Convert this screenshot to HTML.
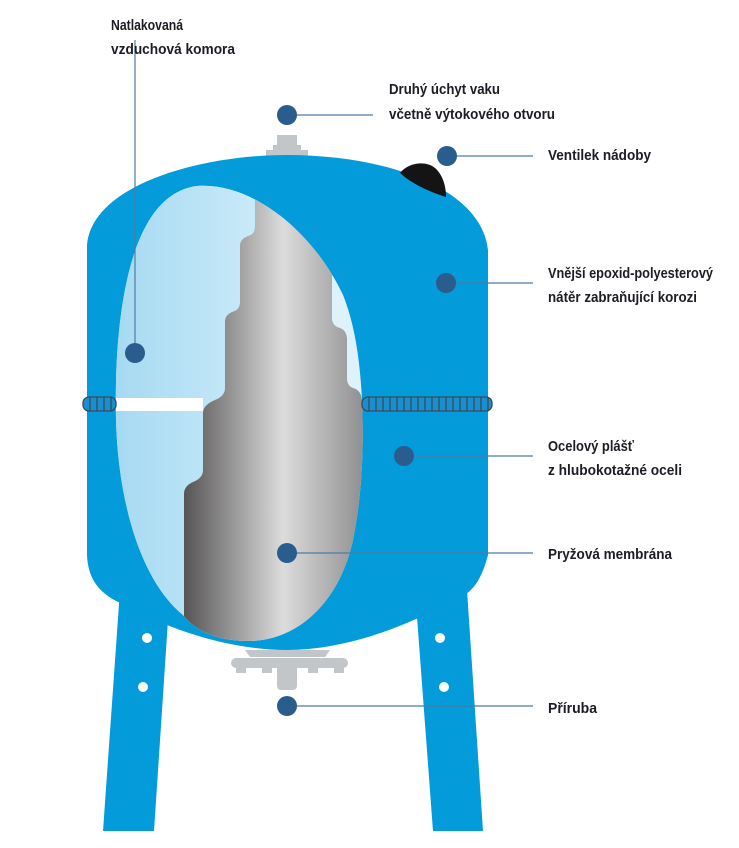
<!DOCTYPE html>
<html><head><meta charset="utf-8"><style>
html,body{margin:0;padding:0;background:#fff}
svg{display:block}
text{font-family:"Liberation Sans",sans-serif;font-size:15px;font-weight:bold;fill:#1c1c24}
</style></head><body>
<svg width="739" height="848" viewBox="0 0 739 848">
<defs>
<linearGradient id="mem" x1="183" x2="365" y1="0" y2="0" gradientUnits="userSpaceOnUse">
<stop offset="0" stop-color="#555354"/><stop offset="0.55" stop-color="#dcdcdc"/><stop offset="1" stop-color="#8e8e90"/>
</linearGradient>
<linearGradient id="win" x1="116" x2="250" y1="0" y2="0" gradientUnits="userSpaceOnUse">
<stop offset="0" stop-color="#a6daf2"/><stop offset="1" stop-color="#c8e9f8"/>
</linearGradient>
<clipPath id="wc"><path d="M183,615 C140,580 118,500 116,420 C114,330 125,195 197,186 C255,182 315,235 343,295 C355,325 360,360 362,400 C364,450 362,495 353,540 C340,600 300,640 250,641 C215,641 195,630 183,615 Z"/></clipPath>
</defs>
<polygon points="120,590 170,590 154,831 103,831" fill="#039bd9"/>
<polygon points="415,590 467,590 483,831 433,831" fill="#039bd9"/>
<circle cx="147" cy="638" r="5" fill="#fff"/><circle cx="143" cy="687" r="5" fill="#fff"/>
<circle cx="440" cy="638" r="5" fill="#fff"/><circle cx="444" cy="687" r="5" fill="#fff"/>
<rect x="277" y="135" width="20" height="16" fill="#c3c6c9"/>
<rect x="273" y="145" width="28" height="8" fill="#c3c6c9"/>
<rect x="266" y="150" width="42" height="8" fill="#c3c6c9"/>
<path d="M245,650 L330,650 L325,657 L250,657 Z" fill="#c3c6c9"/>
<rect x="231" y="658" width="117" height="10" rx="5" fill="#c3c6c9"/>
<rect x="236" y="664" width="10" height="9" fill="#c3c6c9"/><rect x="262" y="664" width="10" height="9" fill="#c3c6c9"/>
<rect x="308" y="664" width="10" height="9" fill="#c3c6c9"/><rect x="334" y="664" width="10" height="9" fill="#c3c6c9"/>
<rect x="277" y="664" width="20" height="26" rx="4" fill="#c3c6c9"/>
<path d="M87,555 L87,245 C92,185 200,155 287,155 C390,155 482,190 488,250 L488,555 C480,585 470,595 450,602 C400,630 340,650 287,650 C230,650 170,630 125,605 C100,595 88,580 87,555 Z" fill="#039bd9"/>
<path d="M400,173 C408,163 425,160 435,168 C442,174 446,185 446,197 C430,192 412,184 400,173 Z" fill="#141414"/>
<g clip-path="url(#wc)">
<rect x="100" y="170" width="280" height="480" fill="#dff2fb"/>
<rect x="100" y="170" width="160" height="480" fill="url(#win)"/>
<path d="M255,185 L255,227 Q255,234 248,236 Q240,239 240,246 L240,302 Q240,310 232,312 Q225,315 225,322 L225,388 Q225,396 215,400 Q203,405 203,413 L203,470 Q203,478 193,482 Q184,486 184,494 L184,650 L380,650 L362,400 Q361,390 353,388 Q347,386 347,378 L347,338 Q346,330 340,328 Q332,326 332,318 L332,262 L290,185 Z" fill="url(#mem)"/>
<rect x="100" y="398" width="103" height="13" fill="#fff"/>
</g>
<g stroke="#3b4a58" stroke-width="1.3" fill="#1890cf">
<rect x="83" y="397" width="33" height="14" rx="6"/>
<rect x="362" y="397" width="130" height="14" rx="6"/>
<path d="M90,397V411M97,397V411M104,397V411M111,397V411 M369,397V411M376,397V411M383,397V411M390,397V411M397,397V411M404,397V411M411,397V411M418,397V411M425,397V411M432,397V411M439,397V411M446,397V411M453,397V411M460,397V411M467,397V411M474,397V411M481,397V411M488,397V411"/>
</g>
<g stroke="#4f7ba3" stroke-width="1.2">
<line x1="135" y1="40" x2="135" y2="350"/>
<line x1="287" y1="115" x2="373" y2="115"/>
<line x1="447" y1="156" x2="533" y2="156"/>
<line x1="446" y1="283" x2="533" y2="283"/>
<line x1="404" y1="456" x2="533" y2="456"/>
<line x1="287" y1="553" x2="533" y2="553"/>
<line x1="287" y1="706" x2="533" y2="706"/>
</g>
<g fill="#2b5c8e">
<circle cx="287" cy="115" r="10"/><circle cx="447" cy="156" r="10"/><circle cx="446" cy="283" r="10"/>
<circle cx="135" cy="353" r="10"/><circle cx="404" cy="456" r="10"/><circle cx="287" cy="553" r="10"/>
<circle cx="287" cy="706" r="10"/>
</g>
<text x="111" y="30" textLength="72" lengthAdjust="spacingAndGlyphs">Natlakovaná</text>
<text x="111" y="54" textLength="124" lengthAdjust="spacingAndGlyphs">vzduchová komora</text>
<text x="389" y="94" textLength="111" lengthAdjust="spacingAndGlyphs">Druhý úchyt vaku</text>
<text x="389" y="119" textLength="166" lengthAdjust="spacingAndGlyphs">včetně výtokového otvoru</text>
<text x="548" y="160" textLength="103" lengthAdjust="spacingAndGlyphs">Ventilek nádoby</text>
<text x="548" y="278" textLength="165" lengthAdjust="spacingAndGlyphs">Vnější epoxid-polyesterový</text>
<text x="548" y="302" textLength="149" lengthAdjust="spacingAndGlyphs">nátěr zabraňující korozi</text>
<text x="548" y="451" textLength="86" lengthAdjust="spacingAndGlyphs">Ocelový plášť</text>
<text x="548" y="475" textLength="134" lengthAdjust="spacingAndGlyphs">z hlubokotažné oceli</text>
<text x="548" y="559" textLength="124" lengthAdjust="spacingAndGlyphs">Pryžová membrána</text>
<text x="548" y="713" textLength="49" lengthAdjust="spacingAndGlyphs">Příruba</text>
</svg>
</body></html>
